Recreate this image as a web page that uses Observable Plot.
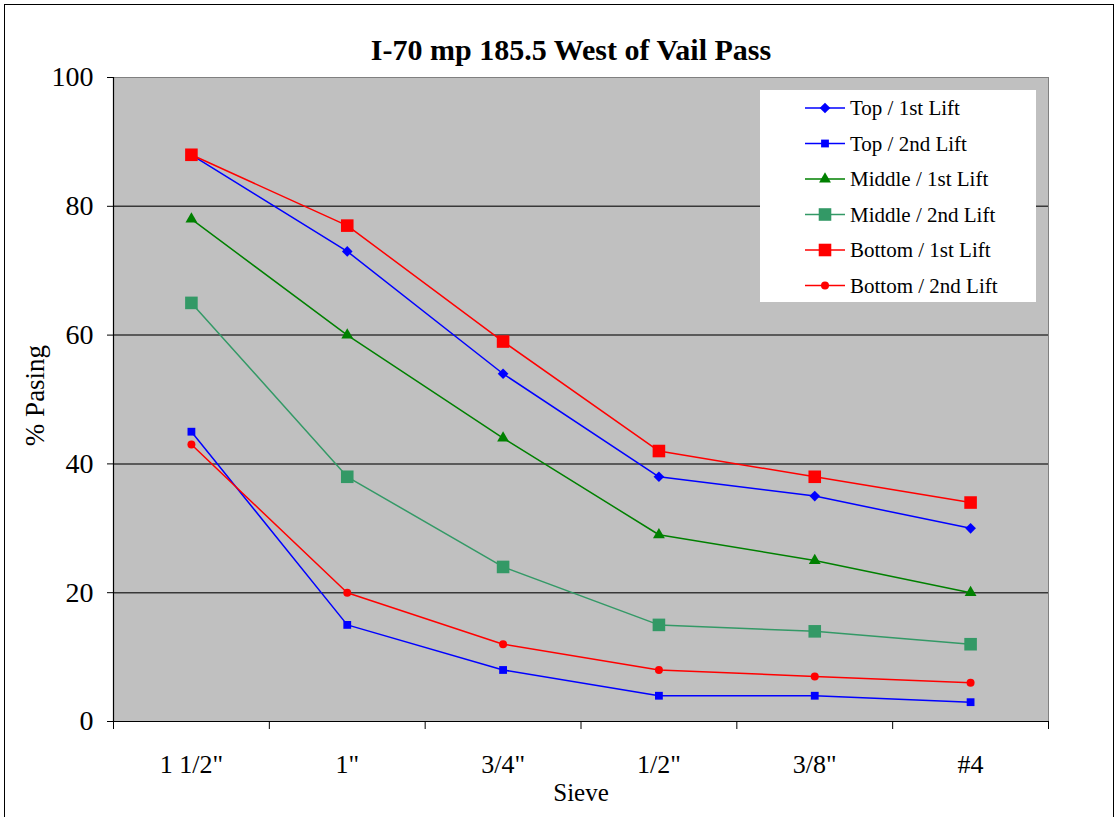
<!DOCTYPE html>
<html>
<head>
<meta charset="utf-8">
<script src="https://cdn.jsdelivr.net/npm/d3@7"></script>
<script src="https://cdn.jsdelivr.net/npm/@observablehq/plot@0.6"></script>
<style>
  html, body { margin: 0; padding: 0; background: #fff; }
  #wrap { position: relative; width: 1119px; height: 817px; overflow: hidden; font-family: "Liberation Serif", "Times New Roman", serif; }
  #border { position: absolute; left: 4px; top: 4px; width: 1110px; height: 830px; border: 1.5px solid #000; box-sizing: border-box; pointer-events: none; }
  #legend { position: absolute; left: 760px; top: 90px; width: 276px; height: 212px; background: #fff; }
</style>
</head>
<body>
<div id="wrap">
  <div id="border"></div>
  <div id="chart"></div>
  <div id="legend"></div>
</div>
<script>
const sieves = ['1 1/2"', '1"', '3/4"', '1/2"', '3/8"', '#4'];
const seriesNames = ["Top / 1st Lift", "Top / 2nd Lift", "Middle / 1st Lift", "Middle / 2nd Lift", "Bottom / 1st Lift", "Bottom / 2nd Lift"];
const topLift1 = [88, 73, 54, 38, 35, 30];
const topLift2 = [45, 15, 8, 4, 4, 3];
const middleLift1 = [78, 60, 44, 29, 25, 20];
const middleLift2 = [65, 38, 24, 15, 14, 12];
const bottomLift1 = [88, 77, 59, 42, 38, 34];
const bottomLift2 = [43, 20, 12, 8, 7, 6];
const yTicks = [0, 20, 40, 60, 80, 100];

const seriesValues = [topLift1, topLift2, middleLift1, middleLift2, bottomLift1, bottomLift2];
const styles = [
  {color: "#0000ff", symbol: "diamond2", r: 4.8},
  {color: "#0000ff", symbol: "square", r: 4.4},
  {color: "#008000", symbol: "triangle", r: 4.4},
  {color: "#339966", symbol: "square", r: 7.1},
  {color: "#ff0000", symbol: "square", r: 7.1},
  {color: "#ff0000", symbol: "circle", r: 4}
];

const rows = seriesNames.flatMap((name, s) => seriesValues[s].map((v, i) => ({series: name, s, i, value: v})));
const idx = d3.range(sieves.length);
const boundaries = d3.range(sieves.length + 1).map(i => i - 0.5);

const seriesMarks = seriesNames.flatMap((name, s) => {
  const data = rows.filter(d => d.s === s);
  const st = styles[s];
  const dotOpts = {x: "i", y: "value", fill: st.color, stroke: "none", r: st.r};
  if (st.symbol !== "circle") dotOpts.symbol = st.symbol;
  return [
    Plot.line(data, {x: "i", y: "value", stroke: st.color, strokeWidth: 1.5}),
    Plot.dot(data, dotOpts)
  ];
});

const chart = Plot.plot({
  width: 1119,
  height: 817,
  marginLeft: 113,
  marginRight: 71,
  marginTop: 77,
  marginBottom: 96,
  style: {fontFamily: '"Liberation Serif", "Times New Roman", serif', background: "transparent", color: "#000", overflow: "visible"},
  x: {type: "linear", domain: [-0.5, sieves.length - 0.5]},
  y: {domain: [0, 100]},
  symbol: {type: "identity"},
  marks: [
    Plot.frame({fill: "#c0c0c0", stroke: "#808080", strokeWidth: 1}),
    Plot.ruleY(yTicks.slice(1, -1), {stroke: "#383838", strokeWidth: 1.5}),
    Plot.axisY({ticks: yTicks, tickSize: 6, tickPadding: 14, fontSize: 28, label: null, stroke: "#000"}),
    Plot.axisX({ticks: boundaries, tickSize: 8, tickFormat: () => "", label: null}),
    Plot.axisX({ticks: idx, tickSize: 0, tickPadding: 33, tickFormat: i => sieves[i], fontSize: 26, label: null}),
    Plot.ruleY([0], {stroke: "#000", strokeWidth: 1.2}),
    Plot.ruleX([-0.5], {stroke: "#000", strokeWidth: 1.2}),
    ...seriesMarks,
    Plot.text(["I-70 mp 185.5 West of Vail Pass"], {text: d => d, frameAnchor: "top", dy: -39, dx: -10, fontSize: 30, fontWeight: "bold"}),
    Plot.text(["Sieve"], {text: d => d, frameAnchor: "bottom", dy: 79, fontSize: 25}),
    Plot.text(["% Pasing"], {text: d => d, frameAnchor: "left", textAnchor: "middle", dx: -78, dy: -4, rotate: -90, fontSize: 27})
  ]
});
document.getElementById("chart").appendChild(chart);

// Legend
const lg = d3.select("#legend").append("svg").attr("width", 276).attr("height", 212)
  .style("font-family", '"Liberation Serif", "Times New Roman", serif');
const symMap = {diamond2: d3.symbolDiamond2, square: d3.symbolSquare, triangle: d3.symbolTriangle, circle: d3.symbolCircle};
seriesNames.forEach((name, s) => {
  const st = styles[s];
  const y = 18 + s * 35.5;
  const g = lg.append("g").attr("transform", `translate(0,${y})`);
  g.append("line").attr("x1", 45).attr("x2", 85).attr("y1", 0).attr("y2", 0).attr("stroke", st.color).attr("stroke-width", 1.5);
  g.append("path").attr("transform", "translate(65,0)")
    .attr("d", d3.symbol(symMap[st.symbol], st.r * st.r * Math.PI)())
    .attr("fill", st.color);
  g.append("text").attr("x", 90).attr("y", 0).attr("dy", "0.35em").attr("font-size", 21).text(name);
});
</script>
</body>
</html>
